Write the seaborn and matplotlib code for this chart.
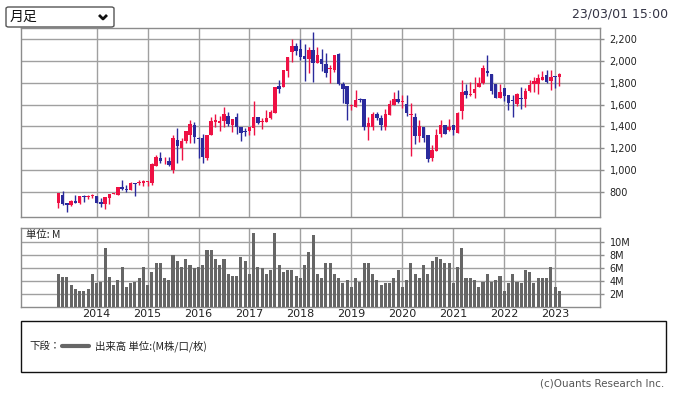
import matplotlib
matplotlib.use('Agg')
import matplotlib.pyplot as plt
import numpy as np
import pandas as pd
import seaborn as sns
from matplotlib.lines import Line2D
from matplotlib.patches import FancyBboxPatch, Rectangle

# monthly bars, Apr 2013 .. Feb 2023
months = pd.period_range('2013-04', '2023-02', freq='M')

opens = [
    702, 772, 702, 681, 721, 696, 757, 757, 766, 763,
    712, 690, 742, 786, 772, 849, 825, 818, 879, 880,
    885, 890, 885, 1038, 1111, 1070, 1084, 1005, 1276, 1205,
    1267, 1322, 1413, 1295, 1291, 1108, 1322, 1440, 1432, 1450,
    1496, 1413, 1486, 1395, 1355, 1359, 1383, 1486, 1445, 1443,
    1474, 1526, 1770, 1758, 1910, 2084, 2136, 2105, 2044, 2014,
    2099, 1977, 2014, 1971, 1922, 1916, 2062, 1788, 1770, 1585,
    1581, 1645, 1651, 1392, 1392, 1514, 1474, 1398, 1505, 1596,
    1651, 1620, 1602, 1505, 1489, 1312, 1398, 1322, 1108, 1178,
    1331, 1413, 1367, 1413, 1343, 1544, 1724, 1690, 1709, 1764,
    1794, 1907, 1880, 1788, 1657, 1748, 1688, 1645, 1602, 1660,
    1651, 1727, 1788, 1788, 1825, 1870, 1815, 1862, 1855]
highs = [
    790, 809, 702, 727, 772, 763, 776, 776, 782, 763,
    742, 757, 782, 790, 849, 910, 864, 894, 879, 910,
    910, 905, 1062, 1136, 1166, 1123, 1120, 1323, 1385, 1297,
    1358, 1459, 1440, 1304, 1331, 1322, 1486, 1514, 1495, 1578,
    1532, 1468, 1523, 1395, 1389, 1395, 1633, 1486, 1474, 1547,
    1547, 1764, 1825, 1916, 2032, 2200, 2166, 2197, 2154, 2130,
    2267, 2130, 2105, 2069, 1965, 2053, 2069, 1810, 1770, 1605,
    1733, 1660, 1651, 1489, 1535, 1535, 1505, 1557, 1642, 1715,
    1733, 1688, 1688, 1612, 1525, 1459, 1398, 1322, 1230, 1377,
    1459, 1413, 1471, 1413, 1535, 1825, 1788, 1809, 1855, 1855,
    1962, 2050, 1880, 1788, 1788, 1748, 1688, 1690, 1703, 1760,
    1748, 1825, 1852, 1880, 1910, 1916, 1916, 1862, 1886]
lows = [
    651, 681, 614, 672, 696, 690, 712, 739, 742, 696,
    666, 641, 690, 782, 772, 815, 800, 818, 763, 868,
    858, 855, 863, 1038, 1065, 1056, 1038, 977, 1068, 1093,
    1245, 1245, 1245, 1111, 1065, 1096, 1322, 1392, 1361, 1395,
    1404, 1349, 1331, 1267, 1310, 1322, 1322, 1422, 1374, 1443,
    1465, 1520, 1706, 1758, 1852, 1990, 2053, 2007, 1818, 1886,
    1810, 1977, 1910, 1852, 1800, 1900, 1780, 1617, 1458, 1550,
    1581, 1620, 1370, 1273, 1370, 1459, 1365, 1365, 1505, 1596,
    1618, 1566, 1495, 1129, 1243, 1260, 1255, 1074, 1086, 1178,
    1300, 1331, 1358, 1322, 1343, 1468, 1660, 1678, 1660, 1764,
    1785, 1862, 1700, 1657, 1657, 1630, 1550, 1483, 1590, 1560,
    1575, 1715, 1712, 1700, 1825, 1800, 1733, 1750, 1773]
closes = [
    788, 690, 681, 718, 702, 763, 751, 763, 772, 702,
    690, 757, 782, 790, 849, 825, 818, 885, 876, 884,
    900, 895, 1056, 1117, 1087, 1074, 1047, 1291, 1221, 1267,
    1358, 1422, 1306, 1285, 1117, 1322, 1450, 1455, 1450, 1514,
    1422, 1468, 1395, 1340, 1349, 1395, 1489, 1430, 1452, 1480,
    1535, 1764, 1742, 1916, 2032, 2136, 2093, 2032, 2020, 2099,
    1977, 2053, 1971, 1892, 1935, 2053, 1785, 1742, 1605, 1592,
    1642, 1640, 1398, 1428, 1514, 1474, 1413, 1514, 1605, 1651,
    1626, 1628, 1526, 1510, 1312, 1404, 1297, 1102, 1184, 1322,
    1413, 1331, 1398, 1367, 1526, 1718, 1688, 1700, 1742, 1800,
    1932, 1886, 1724, 1657, 1712, 1678, 1612, 1635, 1697, 1651,
    1724, 1779, 1816, 1843, 1855, 1809, 1855, 1850, 1880]
# volume, millions
volumes = [
    5.1, 4.6, 4.6, 3.3, 2.8, 2.4, 2.4, 2.8, 5.1, 3.6,
    3.9, 9.0, 4.6, 3.4, 4.2, 6.2, 3.1, 3.7, 3.9, 4.5,
    6.2, 3.3, 5.3, 6.8, 6.8, 4.4, 4.1, 7.9, 7.0, 6.1,
    7.4, 6.5, 5.9, 6.2, 6.5, 8.7, 8.7, 7.4, 6.5, 7.4,
    5.1, 4.7, 4.8, 7.7, 7.0, 5.0, 11.3, 6.1, 5.9, 5.1,
    5.6, 11.3, 6.4, 5.4, 5.6, 5.7, 4.7, 4.4, 6.4, 8.5,
    11.0, 5.1, 4.5, 6.7, 6.8, 5.0, 4.5, 3.6, 4.1, 3.1,
    4.4, 3.9, 6.8, 6.7, 5.0, 4.1, 3.3, 3.6, 3.7, 4.5,
    5.7, 3.0, 4.1, 6.7, 5.0, 4.4, 6.5, 5.0, 7.0, 7.7,
    7.4, 6.7, 6.7, 3.7, 6.1, 9.1, 4.5, 4.4, 4.2, 3.0,
    3.9, 5.1, 3.9, 4.1, 4.7, 2.5, 3.7, 5.0, 3.9, 3.7,
    5.7, 5.3, 3.7, 4.5, 4.4, 4.4, 6.2, 3.0, 2.5]

price_ticks = [800, 1000, 1200, 1400, 1600, 1800, 2000, 2200]
vol_ticks = [2, 4, 6, 8, 10]
timestamp = '23/03/01 15:00'

UP = '#ee1144'
DOWN = '#2a2a9c'
GRID = '#a0a0a0'
EDGE = '#8c8c8c'

sns.set_theme(style='white')
plt.rcParams['font.family'] = ['DejaVu Sans', 'Noto Sans CJK JP']
JP = ['Noto Sans CJK JP', 'DejaVu Sans']

W, H = 675, 395
fig = plt.figure(figsize=(W / 100, H / 100), dpi=100)
fig.patch.set_facecolor('white')


def fx(x):
    return x / W


def fy(y):
    return 1 - y / H


def box(l, t, r, b):
    return [fx(l), fy(b), (r - l) / W, (b - t) / H]


df = pd.DataFrame({'month': months, 'open': opens, 'high': highs,
                   'low': lows, 'close': closes, 'volume': volumes})
df['x'] = np.arange(len(df))
df['up'] = df['close'] >= df['open']
jan = df['month'].dt.month == 1
year_pos = df.loc[jan, 'x'].tolist()
year_lab = [str(m.year) for m in df.loc[jan, 'month']]

xlim = (-8.8, 127.55)

# price panel
ax = fig.add_axes(box(21, 28, 600, 217))
colors = np.where(df['up'], UP, DOWN)
ax.vlines(df['x'], df['low'], df['high'], colors=colors, lw=1, zorder=3)
body = (df['close'] - df['open']).abs().clip(lower=9)
bottom = df[['open', 'close']].min(axis=1)
ax.bar(df['x'], body, bottom=bottom, width=0.82, color=colors, lw=0,
       antialiased=False, zorder=4)
ax.set_xlim(*xlim)
ax.set_ylim(571, 2301)
ax.set_yticks(price_ticks)
ax.set_yticklabels([f'{v:,}' for v in price_ticks])
ax.set_xticks(year_pos)
ax.set_xticklabels([])
ax.yaxis.tick_right()
ax.tick_params(axis='y', right=True, left=False, length=3, width=1, color=EDGE,
               labelsize=7, pad=4, labelcolor='#222222')
ax.tick_params(axis='x', length=0)
ax.grid(True, color=GRID, lw=1)
ax.set_axisbelow(True)
for s in ax.spines.values():
    s.set_color(EDGE)
    s.set_linewidth(1)

# volume panel
axv = fig.add_axes(box(21, 228, 600, 307))
sns.barplot(data=df, x='x', y='volume', native_scale=True, color='#666666',
            saturation=1, width=0.72, errorbar=None, ax=axv, zorder=3,
            linewidth=0, antialiased=False)
axv.set_xlim(*xlim)
axv.set_ylim(0, 12.1)
axv.set_yticks(vol_ticks)
axv.set_yticklabels([f'{v}M' for v in vol_ticks])
axv.set_xticks(year_pos)
axv.set_xticklabels(year_lab)
axv.set_xlabel('')
axv.set_ylabel('')
axv.yaxis.tick_right()
axv.tick_params(axis='y', right=True, left=False, length=3, width=1, color=EDGE,
                labelsize=7, pad=4, labelcolor='#222222')
axv.tick_params(axis='x', length=0, labelsize=8, pad=1.5, labelcolor='#222222')
axv.grid(True, color=GRID, lw=1)
axv.set_axisbelow(True)
for s in axv.spines.values():
    s.set_color(EDGE)
    s.set_linewidth(1)
axv.text(5 / 579, 1 - 7 / 79, '単位: M', transform=axv.transAxes, fontsize=7.5,
         va='center', ha='left', family=JP, color='#222222')

# period selector
fig.patches.append(FancyBboxPatch((fx(6), fy(27)), fx(108), 20 / H,
                                  boxstyle='round,pad=0,rounding_size=0.004',
                                  transform=fig.transFigure, fc='white',
                                  ec='#555555', lw=1))
fig.text(fx(10), fy(17), '月足', fontsize=10, family=JP, va='center', ha='left',
         color='#111111')
fig.add_artist(Line2D([fx(99), fx(103), fx(107)], [fy(15), fy(19), fy(15)],
                      color='#111111', lw=2, solid_capstyle='butt'))
fig.text(fx(668), fy(14), timestamp, fontsize=9, ha='right', va='center',
         color='#333344')

# legend box
fig.patches.append(Rectangle((fx(21), fy(372)), fx(645), 51 / H,
                             transform=fig.transFigure, fc='white', ec='#111111', lw=1))
fig.text(fx(29), fy(346), '下段：', fontsize=7.5, family=JP, va='center', ha='left',
         color='#222222')
fig.add_artist(Line2D([fx(62), fx(89)], [fy(346), fy(346)], color='#666666', lw=3))
fig.text(fx(95), fy(346), '出来高 単位:(M株/口/枚)', fontsize=7.5, family=JP,
         va='center', ha='left', color='#222222')
fig.text(fx(664), fy(384), '(c)Ouants Research Inc.', fontsize=7.5, ha='right',
         va='center', color='#555555')

fig.savefig('out.png', dpi=100)
plt.close(fig)
